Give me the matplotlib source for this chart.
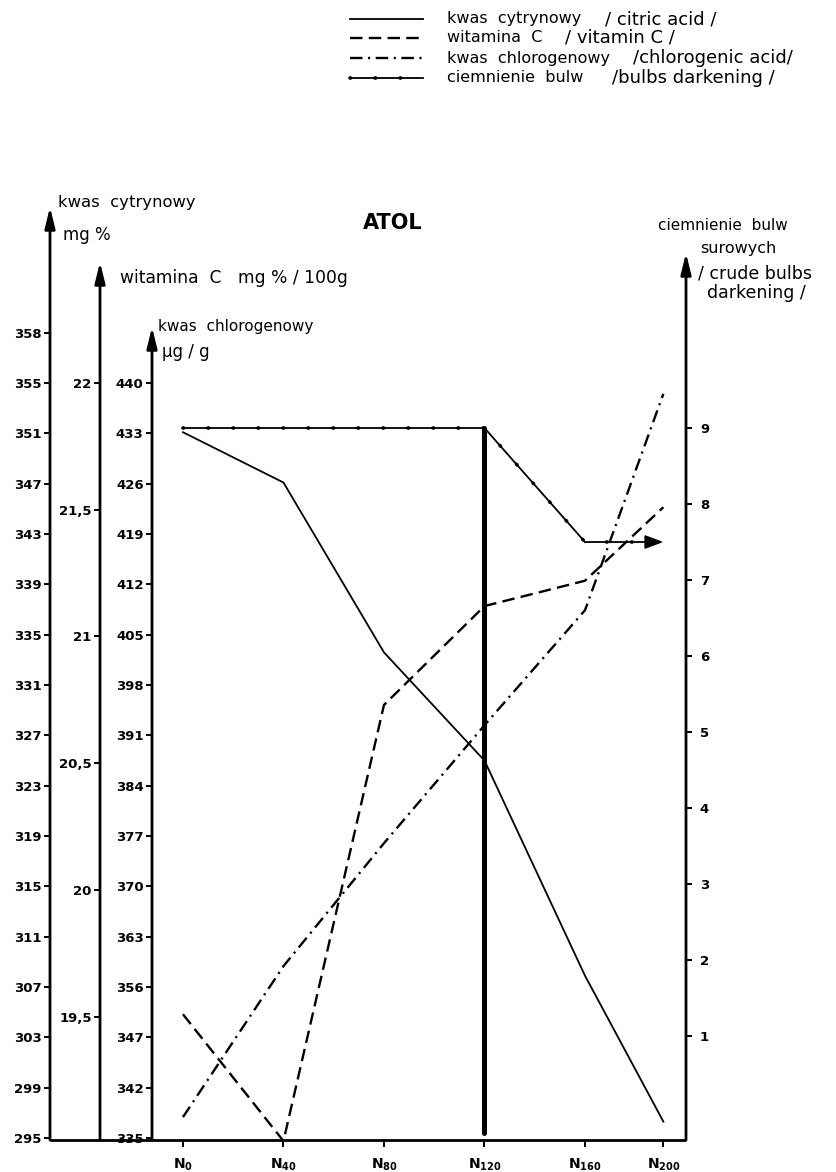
import matplotlib
matplotlib.use("Agg")
import matplotlib.pyplot as plt
from matplotlib.lines import Line2D

plt.rcParams["font.family"] = ["DejaVu Sans"]
plt.rcParams["lines.scale_dashes"] = False

# ---- data -------------------------------------------------------------
categories = [r"$\mathbf{N_{0}}$", r"$\mathbf{N_{40}}$", r"$\mathbf{N_{80}}$",
              r"$\mathbf{N_{120}}$", r"$\mathbf{N_{160}}$", r"$\mathbf{N_{200}}$"]
x_pos = [0, 1, 2, 3, 4, 4.78]

citric_acid = [351.1, 347.1, 333.6, 325.0, 307.9, 296.3]        # mg %
vitamin_c = [19.51, 19.01, 20.73, 21.12, 21.22, 21.51]           # mg % / 100 g
chlorogenic_acid = [337.9, 358.9, 376.0, 392.4, 408.4, 438.5]    # ug / g
darkening = [9.0, 9.0, 9.0, 9.0, 7.5, 7.5]                       # score
darkening_drop = [9.0, -0.28]                                    # marker at N120

citric_ticks = list(range(295, 360, 4))
citric_labels = [str(v) for v in citric_ticks[:-1]] + ["358"]
vitc_ticks = [19.5, 20, 20.5, 21, 21.5, 22]
vitc_labels = ["19,5", "20", "20,5", "21", "21,5", "22"]
chloro_ticks = list(range(335, 441, 7))
chloro_labels = ["335", "342", "347", "356", "363", "370", "377", "384",
                 "391", "398", "405", "412", "419", "426", "433", "440"]
dark_ticks = list(range(1, 10))

# ---- layout helpers (pixel units of the 836 x 1172 canvas) ------------
W, H = 836, 1172
fig = plt.figure(figsize=(W / 100, H / 100), dpi=100)
fig.patch.set_facecolor("white")


def fx(px):
    return px / W


def fy(py):
    return 1 - py / H


AX_L, AX_R, AX_T, AX_B = 152, 686, 205, 1140
ax = fig.add_axes([fx(AX_L), fy(AX_B), (AX_R - AX_L) / W, (AX_B - AX_T) / H])
ax_c = ax.twinx()
ax_v = ax.twinx()
ax_g = ax.twinx()

ax.set_xlim(-0.308, 5.005)
ax.set_ylim(-0.368, 11.934)
ax_c.set_ylim(294.84, 369.16)
ax_v.set_ylim(19.014, 22.702)
ax_g.set_ylim(334.72, 464.76)

for a in (ax, ax_c, ax_v, ax_g):
    for s in a.spines.values():
        s.set_visible(False)
    a.patch.set_visible(False)

# left-hand scales
x_citric = (50 - AX_L) / (AX_R - AX_L)
x_vitc = (100 - AX_L) / (AX_R - AX_L)
for a, xp, ticks, labels in ((ax_c, x_citric, citric_ticks, citric_labels),
                             (ax_v, x_vitc, vitc_ticks, vitc_labels),
                             (ax_g, 0.0, chloro_ticks, chloro_labels)):
    a.spines["left"].set_position(("axes", xp))
    a.yaxis.set_ticks_position("left")
    a.set_yticks(ticks)
    a.set_yticklabels(labels, fontsize=9.5, fontweight="bold")
    a.tick_params(axis="y", direction="out", length=4, width=1.4, pad=2)

# right-hand scale (darkening)
ax.yaxis.tick_right()
ax.set_yticks(dark_ticks)
ax.set_yticklabels([str(v) for v in dark_ticks], fontsize=9.5, fontweight="bold")
ax.tick_params(axis="y", direction="out", length=4, width=1.4, pad=6)

ax.set_xticks(x_pos)
ax.set_xticklabels(categories, fontsize=10)
ax.tick_params(axis="x", direction="out", length=5, width=1.4, pad=7)


# axis lines with arrow heads
def axis_arrow(xf, top):
    ax.annotate("", xy=(xf, top), xytext=(xf, 0.0),
                xycoords=ax.transAxes, textcoords=ax.transAxes,
                arrowprops=dict(arrowstyle="-|>,head_length=0.9,head_width=0.22",
                                lw=2.0, color="black", shrinkA=0, shrinkB=0,
                                mutation_scale=14),
                annotation_clip=False)


axis_arrow(x_citric, (AX_B - 207) / (AX_B - AX_T))
axis_arrow(x_vitc, (AX_B - 262) / (AX_B - AX_T))
axis_arrow(0.0, (AX_B - 327) / (AX_B - AX_T))
axis_arrow(1.0, (AX_B - 253) / (AX_B - AX_T))
ax.plot([x_citric, 1.0], [0, 0], transform=ax.transAxes, color="black",
        lw=2.0, clip_on=False, solid_capstyle="butt")

# ---- series -----------------------------------------------------------
solid_kw = dict(color="black", lw=1.3)
dash_kw = dict(color="black", lw=1.7, dashes=(9, 4.5))
dashdot_kw = dict(color="black", lw=1.7, dashes=(9, 4, 1.5, 4))
dot_kw = dict(color="black", lw=2.6, dashes=(0.5, 17.5), dash_capstyle="round")

ax_c.plot(x_pos, citric_acid, clip_on=False, **solid_kw)
ax_v.plot(x_pos, vitamin_c, clip_on=False, **dash_kw)
ax_g.plot(x_pos, chlorogenic_acid, clip_on=False, **dashdot_kw)

ax.plot(x_pos[:5], darkening[:5], clip_on=False, **solid_kw)
ax.plot(x_pos, darkening, clip_on=False, **dot_kw)
ax.annotate("", xy=(x_pos[5], darkening[5]), xytext=(x_pos[4], darkening[4]),
            arrowprops=dict(arrowstyle="-|>,head_length=0.8,head_width=0.3",
                            lw=1.3, color="black", shrinkA=0, shrinkB=0,
                            mutation_scale=14))
ax.plot([x_pos[3], x_pos[3]], darkening_drop, color="black", lw=3.6,
        solid_capstyle="round", clip_on=False)

# ---- axis captions ----------------------------------------------------
fig.text(fx(58), fy(202), "kwas  cytrynowy", fontsize=11.8, va="center")
fig.text(fx(63), fy(235), "mg %", fontsize=12, va="center")
fig.text(fx(120), fy(278), "witamina  C   mg % / 100g", fontsize=12.3, va="center")
fig.text(fx(158), fy(327), "kwas  chlorogenowy", fontsize=11, va="center")
fig.text(fx(162), fy(352), "µg / g", fontsize=12, va="center")
fig.text(fx(363), fy(223), "ATOL", fontsize=15, fontweight="bold", va="center")

fig.text(fx(658), fy(225), "ciemnienie  bulw", fontsize=11, va="center")
fig.text(fx(700), fy(248), "surowych", fontsize=11.5, va="center")
fig.text(fx(698), fy(273), "/ crude bulbs", fontsize=12.5, va="center")
fig.text(fx(707), fy(293), "darkening /", fontsize=12.5, va="center")

# ---- legend -----------------------------------------------------------
rows = [19, 38, 58, 78]
legend_items = [
    ("kwas  cytrynowy", "/ citric acid /", 605, [solid_kw]),
    ("witamina  C", "/ vitamin C /", 565, [dash_kw]),
    ("kwas  chlorogenowy", "/chlorogenic acid/", 633, [dashdot_kw]),
    ("ciemnienie  bulw", "/bulbs darkening /", 612, [solid_kw, dot_kw]),
]
for y, (pl, en, x_en, styles) in zip(rows, legend_items):
    for st in styles:
        fig.add_artist(Line2D([fx(350), fx(423)], [fy(y), fy(y)],
                              transform=fig.transFigure, **st))
    fig.text(fx(447), fy(y), pl, fontsize=11.5, va="center")
    fig.text(fx(x_en), fy(y), en, fontsize=13, va="center")

fig.savefig("out.png", dpi=100, facecolor="white")
